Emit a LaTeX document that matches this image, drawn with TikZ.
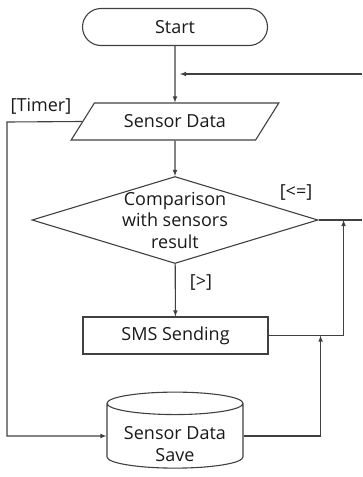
\documentclass[tikz,border=0pt]{standalone}
\usepackage{fontspec}
\setmainfont{Open Sans}
\usetikzlibrary{shapes.geometric}

\begin{document}
\begin{tikzpicture}[thick, >=latex, line width=1.1pt, draw=black!75,
    every node/.style={font=\fontsize{18}{21.5}\selectfont, text=black!90},
    box/.style={draw, draw=black!75, line width=1.1pt, minimum width=185pt, minimum height=37pt, inner sep=0pt},
    term/.style={box, rounded corners=18.5pt},
    io/.style={draw, draw=black!75, line width=1.1pt, trapezium, trapezium left angle=42, trapezium right angle=138,
      trapezium stretches=true, minimum width=208pt, minimum height=37pt, inner sep=0pt},
    decision/.style={draw, draw=black!75, line width=1.1pt, diamond, aspect=3.3, minimum width=286pt, minimum height=87pt,
      inner sep=-8pt, align=center},
    store/.style={draw, draw=black!75, line width=1.1pt, cylinder, shape border rotate=90, aspect=0.22,
      minimum width=136pt, minimum height=76pt, inner sep=0pt, text height=15pt, text depth=8pt},
    tag/.style={inner sep=0pt}]
            \useasboundingbox (0,0) rectangle (362pt,-477pt);
            % Nodes
            \node[term] (start) at (175pt,-27pt) {Start};
            \node[io] (data) at (175pt,-121.5pt) {Sensor Data};
            \node[decision] (cmp) at (175pt,-220pt) {Comparison\\with sensors\\result};
            \node[box] (sms) at (175.5pt,-335.5pt) {SMS Sending};
            \node[store] (save) at (175pt,-436pt) {\begin{tabular}[t]{@{}c@{}}Sensor Data\\Save\end{tabular}};
            \node[tag] (timer) at (41pt,-106pt) {[Timer]};
            \node[tag] (le) at (296pt,-192pt) {[<=]};
            \node[tag] (gt) at (201pt,-282pt) {[>]};
            \coordinate (loopin) at (362pt,-74pt);
            \coordinate (loopend) at (180pt,-74pt);
            \coordinate (loopout) at (362pt,-220pt);
            \coordinate (tleft) at (7pt,-122pt);
          % Arrows
          \draw[->] (start) -- (data);
          \draw[->] (loopin) -- (loopend);
          \draw[->] (data) -- (cmp);
          \draw[->] (cmp) -- (sms);
          \draw (cmp.east) -- (loopout);
          \draw[->] (sms.east) -| ([xshift=25pt]cmp.east);
          \draw[->] (save.east) -| ([xshift=52pt]sms.east);
          \draw[->] (data.west) -- (tleft) |- (save.west);
        \end{tikzpicture}
\end{document}
